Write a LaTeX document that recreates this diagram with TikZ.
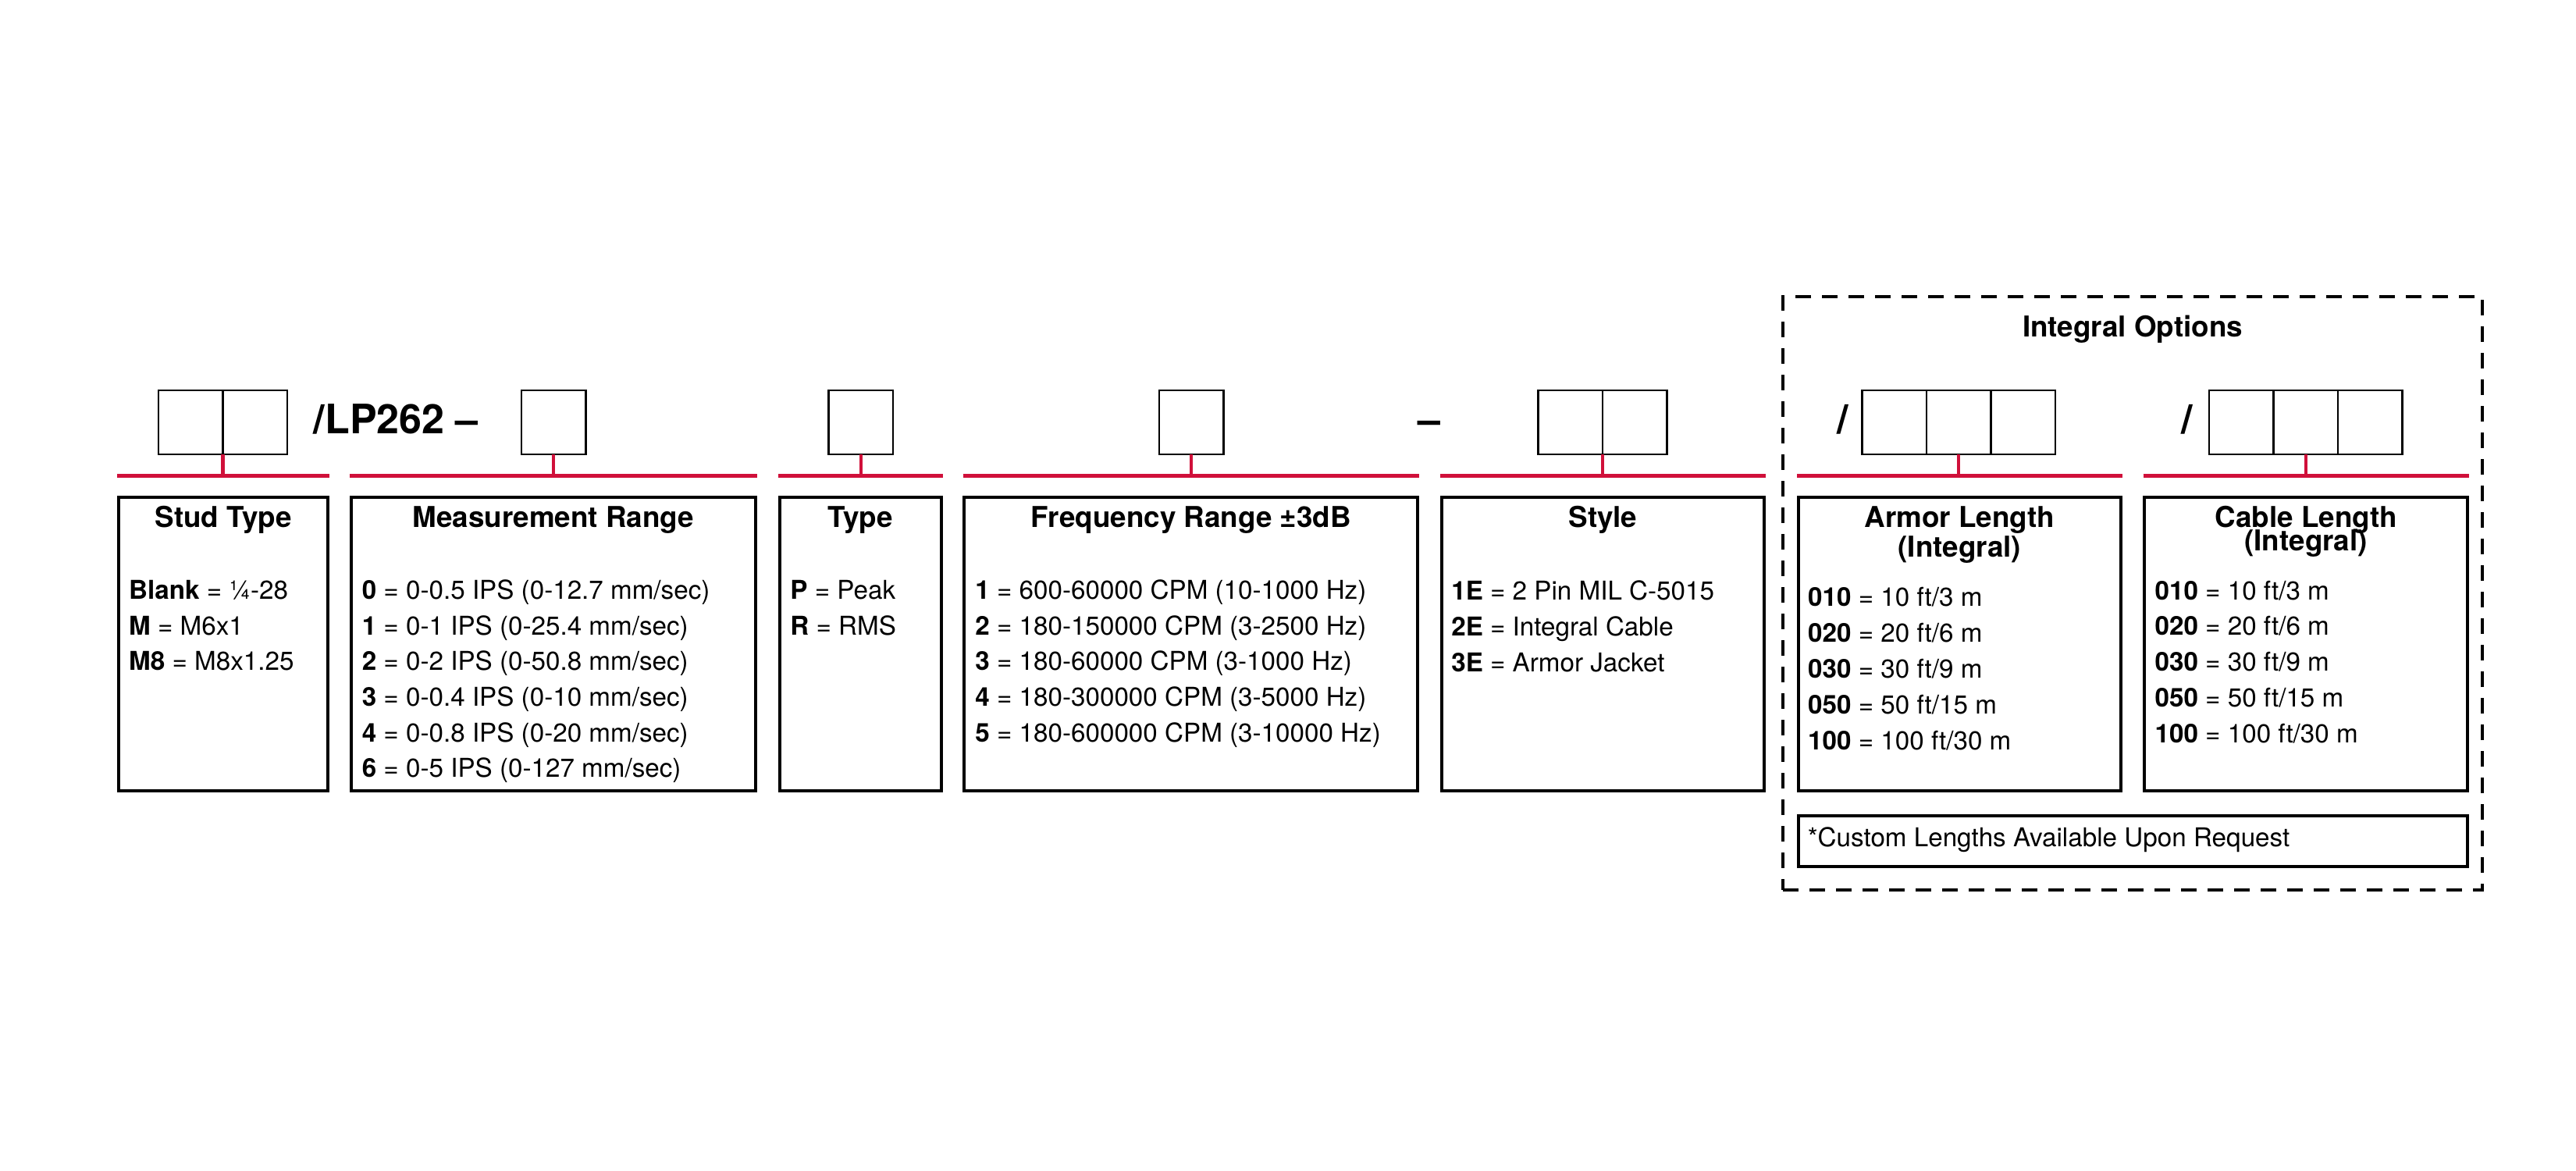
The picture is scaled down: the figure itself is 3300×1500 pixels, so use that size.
\documentclass[tikz,border=0pt]{standalone}
\usepackage{fontspec}
\setmainfont{TeX Gyre Heros}
\definecolor{lred}{HTML}{D0103A}
\begin{document}
\begin{tikzpicture}[x=0.25pt,y=-0.25pt,
  cell/.style={draw, line width=0.62pt, inner sep=0pt, outer sep=0pt, anchor=north west,
    minimum width={82.5*0.25pt}, minimum height={82*0.25pt}},
  infobox/.style={draw, line width=1pt, inner sep=0pt, outer sep=0pt, anchor=north west},
  redline/.style={draw=lred, line width=1.05pt},
  dashedbox/.style={draw, line width=1pt, dash pattern=on 5pt off 3.5pt, inner sep=0pt, outer sep=0pt, anchor=north west},
  title/.style={font=\fontsize{9.2}{11}\selectfont\bfseries, inner sep=0pt, anchor=base},
  item/.style={font=\fontsize{8.3}{10}\selectfont, inner sep=0pt, anchor=base west},
  big/.style={font=\fontsize{13}{15}\selectfont\bfseries, inner sep=0pt},
]
\useasboundingbox (0,0) rectangle (3300,1500);

% ---------- code cells ----------
\node[cell] (s1) at (203,500) {};
\node[cell] (s2) at (285.5,500) {};
\node[big, anchor=base west] (lp) at (401,555) {/LP262 –};
\node[cell] (m1) at (668,500) {};
\node[cell] (t1) at (1061.5,500) {};
\node[cell] (f1) at (1485,500) {};
\node[big, anchor=base] (dash) at (1831,555) {–};
\node[cell] (y1) at (1970.5,500) {};
\node[cell] (y2) at (2053,500) {};
\node[big, anchor=base] (sl1) at (2361,555) {/};
\node[cell] (a1) at (2385.5,500) {};
\node[cell] (a2) at (2468,500) {};
\node[cell] (a3) at (2550.5,500) {};
\node[big, anchor=base] (sl2) at (2801.5,555) {/};
\node[cell] (c1) at (2830,500) {};
\node[cell] (c2) at (2912.5,500) {};
\node[cell] (c3) at (2995,500) {};

% ---------- red bars ----------
\coordinate (studL) at (150,609.5);   \coordinate (studR) at (422,609.5);
\coordinate (measL) at (448,609.5);   \coordinate (measR) at (970,609.5);
\coordinate (typeL) at (997,609.5);   \coordinate (typeR) at (1207.5,609.5);
\coordinate (freqL) at (1233.5,609.5);\coordinate (freqR) at (1818,609.5);
\coordinate (stylL) at (1845,609.5);  \coordinate (stylR) at (2262,609.5);
\coordinate (armL) at (2302,609.5);   \coordinate (armR) at (2718.5,609.5);
\coordinate (cabL) at (2745.5,609.5); \coordinate (cabR) at (3163,609.5);
\draw[redline] (studL) -- (studR);
\draw[redline] (measL) -- (measR);
\draw[redline] (typeL) -- (typeR);
\draw[redline] (freqL) -- (freqR);
\draw[redline] (stylL) -- (stylR);
\draw[redline] (armL) -- (armR);
\draw[redline] (cabL) -- (cabR);
\draw[redline] (s1.south east) -- (s1.south east |- studL);
\draw[redline] (m1.south) -- (m1.south |- measL);
\draw[redline] (t1.south) -- (t1.south |- typeL);
\draw[redline] (f1.south) -- (f1.south |- freqL);
\draw[redline] (y1.south east) -- (y1.south east |- stylL);
\draw[redline] (a2.south) -- (a2.south |- armL);
\draw[redline] (c2.south) -- (c2.south |- cabL);

% ---------- dashed group ----------
\node[dashedbox, minimum width={896*0.25pt}, minimum height={760*0.25pt}] (opts) at (2284,380) {};
\node[title] (optsT) at (2732,431) {Integral Options};

% ---------- info boxes ----------
\node[infobox, minimum width={268*0.25pt}, minimum height={376*0.25pt}] (stud) at (152,637) {};
\node[infobox, minimum width={518*0.25pt}, minimum height={376*0.25pt}] (meas) at (450,637) {};
\node[infobox, minimum width={206.6*0.25pt}, minimum height={376*0.25pt}] (type) at (999,637) {};
\node[infobox, minimum width={581*0.25pt}, minimum height={376*0.25pt}] (freq) at (1235.4,637) {};
\node[infobox, minimum width={413*0.25pt}, minimum height={376*0.25pt}] (styl) at (1847,637) {};
\node[infobox, minimum width={412.6*0.25pt}, minimum height={376*0.25pt}] (arm) at (2304,637) {};
\node[infobox, minimum width={413.7*0.25pt}, minimum height={376*0.25pt}] (cab) at (2747.3,637) {};
\node[infobox, minimum width={857*0.25pt}, minimum height={65*0.25pt}] (cust) at (2304,1045) {};

% ---------- titles ----------
\node[title] (studT) at (286,675) {Stud Type};
\node[title] (measT) at (709,675) {Measurement Range};
\node[title] (typeT) at (1102.3,675) {Type};
\node[title] (freqT) at (1525.9,675) {Frequency Range ±3dB};
\node[title] (stylT) at (2053.5,675) {Style};
\node[title] (armT) at (2510.3,675) {Armor Length};
\node[title] (armT2) at (2510.3,713) {(Integral)};
\node[title] (cabT) at (2954.2,675) {Cable Length};
\node[title] (cabT2) at (2954.2,705) {(Integral)};

% ---------- items ----------
\node[item] (st1) at (164.4,767.7) {\textbf{Blank} = ¼-28};
\node[item] (st2) at (164.4,813.3) {\textbf{M} = M6x1};
\node[item] (st3) at (164.4,858.9) {\textbf{M8} = M8x1.25};

\node[item] (mr1) at (463,767.7) {\textbf{0} = 0-0.5 IPS (0-12.7 mm/sec)};
\node[item] (mr2) at (463,813.3) {\textbf{1} = 0-1 IPS (0-25.4 mm/sec)};
\node[item] (mr3) at (463,858.9) {\textbf{2} = 0-2 IPS (0-50.8 mm/sec)};
\node[item] (mr4) at (463,904.5) {\textbf{3} = 0-0.4 IPS (0-10 mm/sec)};
\node[item] (mr5) at (463,950.1) {\textbf{4} = 0-0.8 IPS (0-20 mm/sec)};
\node[item] (mr6) at (463,995.7) {\textbf{6} = 0-5 IPS (0-127 mm/sec)};

\node[item] (ty1) at (1011.6,767.7) {\textbf{P} = Peak};
\node[item] (ty2) at (1011.6,813.3) {\textbf{R} = RMS};

\node[item] (fr1) at (1248.6,767.7) {\textbf{1} = 600-60000 CPM (10-1000 Hz)};
\node[item] (fr2) at (1248.6,813.3) {\textbf{2} = 180-150000 CPM (3-2500 Hz)};
\node[item] (fr3) at (1248.6,858.9) {\textbf{3} = 180-60000 CPM (3-1000 Hz)};
\node[item] (fr4) at (1248.6,904.5) {\textbf{4} = 180-300000 CPM (3-5000 Hz)};
\node[item] (fr5) at (1248.6,950.1) {\textbf{5} = 180-600000 CPM (3-10000 Hz)};

\node[item] (sy1) at (1858.5,768) {\textbf{1E} = 2 Pin MIL C-5015};
\node[item] (sy2) at (1858.5,814) {\textbf{2E} = Integral Cable};
\node[item] (sy3) at (1858.5,860) {\textbf{3E} = Armor Jacket};

\node[item] (ar1) at (2315.4,776) {\textbf{010} = 10 ft/3 m};
\node[item] (ar2) at (2315.4,822) {\textbf{020} = 20 ft/6 m};
\node[item] (ar3) at (2315.4,868) {\textbf{030} = 30 ft/9 m};
\node[item] (ar4) at (2315.4,914) {\textbf{050} = 50 ft/15 m};
\node[item] (ar5) at (2315.4,960) {\textbf{100} = 100 ft/30 m};

\node[item] (cb1) at (2759.8,768) {\textbf{010} = 10 ft/3 m};
\node[item] (cb2) at (2759.8,813.5) {\textbf{020} = 20 ft/6 m};
\node[item] (cb3) at (2759.8,859) {\textbf{030} = 30 ft/9 m};
\node[item] (cb4) at (2759.8,905) {\textbf{050} = 50 ft/15 m};
\node[item] (cb5) at (2759.8,951) {\textbf{100} = 100 ft/30 m};

\node[item] (custT) at (2315,1084.5) {*Custom Lengths Available Upon Request};
\end{tikzpicture}
\end{document}
